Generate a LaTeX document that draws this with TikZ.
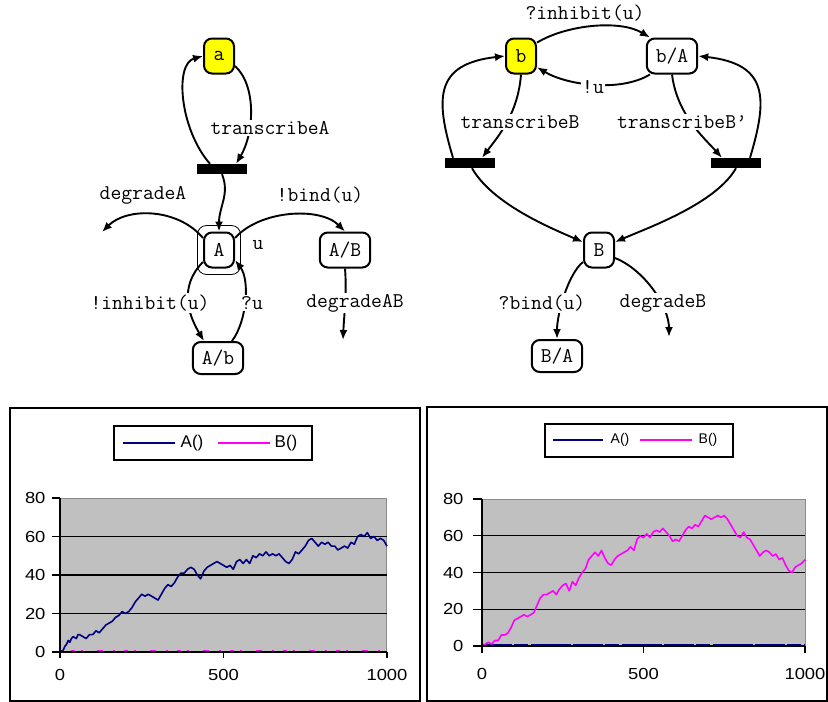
\documentclass[tikz,border=0pt]{standalone}
\usepackage{fontspec}
\setmainfont{Liberation Sans}
\usepackage{xcolor}
\usepackage{tikz}
\usetikzlibrary{positioning,arrows.meta,calc}
\definecolor{StateYellow}{HTML}{FFFF00}
\definecolor{PlotGray}{HTML}{C0C0C0}
\definecolor{PlotEdge}{HTML}{8A8A8A}
\definecolor{SeriesA}{HTML}{000080}
\definecolor{SeriesB}{HTML}{FF00FF}

\newcommand{\wideno}[1]{\scalebox{1.15}[1]{#1}}

\tikzset{
  statebox/.style={draw, line width=2pt, rounded corners=8pt, fill=white,
    minimum height=35pt, minimum width=30pt, inner xsep=9pt,
    font=\ttfamily\fontsize{21}{23}\selectfont},
  startbox/.style={statebox, fill=StateYellow},
  transbar/.style={fill=black, minimum width=50pt, minimum height=10pt, inner sep=0pt},
  lab/.style={fill=white, inner sep=1.5pt, font=\ttfamily\fontsize{21}{23}\selectfont},
  arr/.style={line width=1.9pt, -{Latex[length=10pt,width=8pt]}},
  ticklab/.style={font=\fontsize{16}{18}\selectfont},
  series/.style={line width=1.6pt, line join=round}
}

\begin{document}
\begin{tikzpicture}[x=1pt,y=1pt]
      \useasboundingbox (0,0) rectangle (828,-702);

      % A side
      \node[startbox] (a) at (219,-56) {a};
      \node[transbar] (barA) at (222,-169) {};
      \node[draw, line width=0.8pt, rounded corners=9pt, minimum width=43pt,
            minimum height=49pt] (Aring) at (219,-250) {};
      \node[statebox] (A) at (219,-250) {A};
      \node[statebox] (AB) at (345,-250) {A/B};
      \node[statebox, minimum height=32pt] (Ab) at (218,-358) {A/b};
      \coordinate (dA) at (102,-232);
      \coordinate (dAB) at (343,-340);

      \draw[arr] ([xshift=-12pt]barA.north) .. controls +(-30,34) and +(-29,-8) .. (a.west);
      \draw[arr] ([yshift=-10pt]a.east) .. controls +(22,-20) and +(18,30) .. ([xshift=14pt]barA.north);
      \draw[arr] (barA.south) .. controls +(8,-20) and +(0,25) .. (A.north);
      \draw[arr] ([yshift=12pt]A.west) .. controls +(-25,30) and +(25,25) .. (dA);
      \draw[arr] ([yshift=12pt]A.east) .. controls +(25,28) and +(-25,25) .. (AB.north);
      \draw[arr] (AB.south) .. controls +(2,-25) and +(1,25) .. (dAB);
      \draw[arr] ([yshift=-12pt]A.west) .. controls +(-25,-25) and +(-15,25) .. ([xshift=-14pt]Ab.north);
      \draw[arr] ([xshift=14pt]Ab.north) .. controls +(15,20) and +(15,-20) .. ([yshift=-10pt]A.east);

      \node[lab] (lTA) at (270,-128) {transcribeA};
      \node[lab] (lDA) at (143,-195) {degradeA};
      \node[lab] (lBind) at (320,-195) {!bind(u)};
      \node[lab] (lU) at (258,-245) {u};
      \node[lab] (lInh) at (150,-303) {!inhibit(u)};
      \node[lab] (lQu) at (252,-303) {?u};
      \node[lab] (lDAB) at (355,-303) {degradeAB};

      % B side
      \node[startbox] (b) at (521,-56) {b};
      \node[statebox] (bA) at (672,-56) {b/A};
      \node[transbar] (barL) at (470,-163) {};
      \node[transbar] (barR) at (736,-163) {};
      \node[statebox] (B) at (599,-250) {B};
      \node[statebox, minimum height=32pt] (BA) at (557,-356) {B/A};
      \coordinate (dB) at (669,-337);

      \draw[arr] (b.40) .. controls +(30,18) and +(-30,18) .. (bA.140);
      \draw[arr] (bA.220) .. controls +(-30,-18) and +(30,-18) .. (b.-35);
      \draw[arr] (b.south) .. controls +(-3,-40) and +(15,20) .. ([xshift=12pt]barL.north);
      \draw[arr] (bA.south) .. controls +(5,-40) and +(-18,20) .. ([xshift=-14pt]barR.north);
      \draw[arr] ([xshift=-17pt]barL.north) .. controls +(-18,60) and +(-70,-8) .. (b.west);
      \draw[arr] ([xshift=14pt]barR.north) .. controls +(18,60) and +(70,-8) .. (bA.east);
      \draw[arr] ([xshift=2pt]barL.south) .. controls +(20,-35) and +(-35,15) .. ([yshift=8pt]B.west);
      \draw[arr] (barR.south) .. controls +(-20,-35) and +(35,15) .. ([yshift=8pt]B.east);
      \draw[arr] ([yshift=-12pt]B.west) .. controls +(-15,-12) and +(0,25) .. (BA.north);
      \draw[arr] ([yshift=-8pt]B.east) .. controls +(30,-12) and +(0,30) .. (dB);

      \node[lab] (lQInh) at (585,-13) {?inhibit(u)};
      \node[lab] (lU2) at (593,-87) {!u};
      \node[lab] (lTB) at (520,-122) {transcribeB};
      \node[lab] (lTB2) at (682,-122) {transcribeB’};
      \node[lab] (lQBind) at (542,-303) {?bind(u)};
      \node[lab] (lDB) at (663,-303) {degradeB};

      % left chart
      \draw[line width=1.3pt] (10,-408) rectangle (420,-701);
      \draw[line width=1.3pt, fill=white] (114,-426) rectangle (312,-460);
      \draw[SeriesA, line width=1.6pt] (123,-443) -- (175,-443);
      \node[font=\fontsize{17}{19}\selectfont] at (192,-443) {A()};
      \draw[SeriesB, line width=1.6pt] (218,-443) -- (270,-443);
      \node[font=\fontsize{17}{19}\selectfont] at (286,-443) {B()};
      \begin{scope}[shift={(60,-652)}, x=0.327pt, y=1.925pt]
        \fill[PlotGray] (0,0) rectangle (1000,80);
        \draw[PlotEdge, line width=1pt] (0,80) -- (1000,80) -- (1000,0);
        \foreach \v in {20,40,60}
          \draw[line width=1.3pt] (0,\v) -- (1000,\v);
        \foreach \v in {0,20,...,80} {
          \draw[line width=1.2pt] (0,\v) -- ++(-8pt,0);
          \node[ticklab, anchor=east] at ([xshift=-11pt]0,\v) {\wideno{\v}};
        }
        \foreach \t in {0,500,1000} {
          \draw[line width=1.2pt] (\t,0) -- ++(0,-6pt);
          \node[ticklab] at ([yshift=-23pt]\t,0) {\wideno{\t}};
        }
        \draw[SeriesB, line width=1.6pt, dash pattern=on 2pt off 9pt on 4pt off 6pt on 2pt off 14pt on 6pt off 10pt]
          (0,0.5) -- (1000,0.5);
        \draw[SeriesA, series] plot coordinates {(0,0) (10,1) (15,3) (20,4) (25,6) (30,5) (35,7) (40,8)
          (50,7) (55,9) (60,9) (70,8) (80,7) (90,9) (100,9) (110,11) (120,10) (130,12) (140,14)
          (150,15) (160,16) (170,18) (180,19) (190,21) (200,20) (210,21) (220,23) (230,26) (240,28)
          (250,30) (260,29) (270,30) (280,29) (290,28) (300,27) (310,30) (320,33) (330,35) (340,34)
          (350,36) (360,39) (370,41) (380,41) (390,43) (400,44) (410,43) (420,40) (430,38) (440,42)
          (450,44) (460,45) (470,46) (480,47) (490,46) (500,45) (510,44) (520,45) (530,43) (540,47)
          (550,48) (560,46) (570,48) (580,46) (590,50) (600,49) (610,51) (620,50) (630,52) (640,50)
          (650,51) (660,50) (670,51) (680,49) (690,47) (700,46) (710,48) (720,52) (730,51) (740,53)
          (750,55) (760,58) (770,59) (780,57) (790,55) (800,57) (810,56) (820,57) (830,55) (840,55)
          (850,53) (860,54) (870,55) (880,54) (890,57) (900,56) (910,60) (920,61) (930,60) (940,62)
          (950,59) (960,60) (970,58) (980,59) (990,58) (1000,55)};
        \draw[line width=1.3pt] (0,80) -- (0,0) -- (1000,0);
      \end{scope}

      % right chart
      \draw[line width=1.3pt] (427,-407) rectangle (827,-701);
      \draw[line width=1.3pt, fill=white] (545,-424) rectangle (733,-457);
      \draw[SeriesA, line width=1.6pt] (553,-440) -- (603,-440);
      \node[font=\fontsize{14}{16}\selectfont] at (620,-440) {A()};
      \draw[SeriesB, line width=1.6pt] (640,-440) -- (692,-440);
      \node[font=\fontsize{14}{16}\selectfont] at (708,-440) {B()};
      \begin{scope}[shift={(482,-646)}, x=0.323pt, y=1.8375pt]
        \fill[PlotGray] (0,0) rectangle (1000,80);
        \draw[PlotEdge, line width=1pt] (0,80) -- (1000,80) -- (1000,0);
        \foreach \v in {20,40,60}
          \draw[line width=1.3pt] (0,\v) -- (1000,\v);
        \foreach \v in {0,20,...,80} {
          \draw[line width=1.2pt] (0,\v) -- ++(-9pt,0);
          \node[ticklab, anchor=east] at ([xshift=-15pt]0,\v) {\wideno{\v}};
        }
        \foreach \t in {0,500,1000} {
          \draw[line width=1.2pt] (\t,0) -- ++(0,-7pt);
          \node[ticklab] at ([yshift=-28pt]\t,0) {\wideno{\t}};
        }
        \draw[SeriesA, line width=1.8pt, dash pattern=on 30pt off 2pt on 14pt off 3pt on 40pt off 2pt]
          (0,0.6) -- (1000,0.6);
        \draw[SeriesB, series] plot coordinates {(0,0) (10,1) (20,2) (30,1) (40,3) (50,3) (60,6)
          (70,6) (80,7) (90,10) (100,14) (110,15) (120,16) (130,17) (140,16) (150,17) (160,18)
          (170,22) (180,26) (190,28) (200,28) (210,29) (220,30) (230,28) (240,31) (250,33) (260,34)
          (270,30) (280,35) (290,33) (300,37) (310,40) (320,42) (330,47) (340,49) (350,51) (360,49)
          (370,52) (380,48) (390,45) (400,44) (410,47) (420,49) (430,50) (440,51) (450,52) (460,54)
          (470,52) (480,58) (490,60) (500,59) (510,61) (520,59) (530,62) (540,63) (550,62) (560,64)
          (570,62) (580,60) (590,57) (600,58) (610,57) (620,60) (630,63) (640,65) (650,64) (660,66)
          (670,65) (680,68) (690,71) (700,70) (710,69) (720,70) (730,71) (740,70) (750,71) (760,69)
          (770,66) (780,63) (790,60) (800,59) (810,62) (820,59) (830,58) (840,55) (850,52) (860,49)
          (870,51) (880,52) (890,51) (900,49) (910,50) (920,47) (930,48) (940,44) (950,41) (960,40)
          (970,43) (980,44) (990,45) (1000,47)};
        \draw[line width=1.3pt] (0,80) -- (0,0) -- (1000,0);
      \end{scope}
    \end{tikzpicture}
\end{document}
